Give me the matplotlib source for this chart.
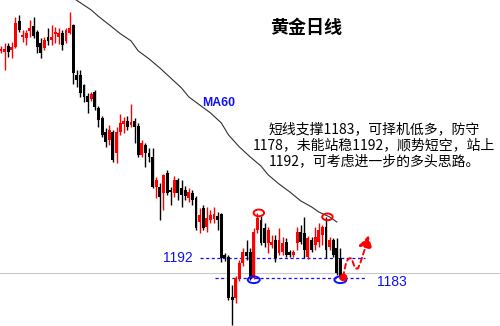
import matplotlib as mpl
import matplotlib.pyplot as plt
import numpy as np
from matplotlib.patches import Ellipse, FancyArrowPatch
from matplotlib.path import Path

plt.rcParams['font.family'] = ['Noto Sans CJK SC', 'DejaVu Sans']

RED = '#ff0000'
BLUE = '#1010ff'

# daily gold candles, oldest first
opens = [1285.1, 1284.6, 1287.3, 1285.5, 1286.9, 1298.6, 1291.4, 1290.9, 1294.1, 1296.3,
         1293.6, 1288.7, 1286.4, 1291.4, 1290.0, 1292.7, 1291.4, 1293.2, 1289.6, 1293.2,
         1296.8, 1274.3, 1274.3, 1269.8, 1264.8, 1263.5, 1266.6, 1259.4, 1254.9, 1248.6,
         1245.0, 1248.6, 1239.2, 1248.6, 1252.2, 1253.6, 1251.8, 1253.6, 1251.3, 1238.3,
         1242.8, 1239.2, 1237.4, 1223.9, 1223.9, 1221.2, 1230.2, 1222.5, 1221.2, 1227.0,
         1223.4, 1222.5, 1218.9, 1221.2, 1218.9, 1208.1, 1214.4, 1205.9, 1209.0, 1209.5,
         1210.8, 1211.7, 1193.3, 1192.4, 1174.4, 1173.9, 1182.9, 1189.7, 1194.6, 1194.6,
         1182.9, 1204.5, 1209.0, 1205.4, 1198.7, 1197.8, 1200.0, 1194.2, 1194.6, 1199.1,
         1194.6, 1193.3, 1198.7, 1203.6, 1203.2, 1192.4, 1200.0, 1197.8, 1199.1, 1202.3,
         1205.9, 1196.9, 1200.0, 1196.4, 1191.9]
highs = [1287.3, 1288.7, 1288.7, 1289.1, 1300.4, 1301.3, 1294.5, 1294.5, 1299.0, 1300.4,
         1294.5, 1290.9, 1291.4, 1295.4, 1296.8, 1295.9, 1295.4, 1294.5, 1295.4, 1302.6,
         1297.2, 1276.5, 1276.5, 1270.2, 1266.2, 1266.6, 1267.5, 1260.3, 1255.8, 1250.4,
         1251.8, 1249.5, 1250.9, 1256.7, 1255.4, 1255.8, 1261.2, 1254.9, 1252.7, 1245.0,
         1243.7, 1241.4, 1241.4, 1228.4, 1225.7, 1229.7, 1231.5, 1223.9, 1228.8, 1227.9,
         1227.0, 1224.3, 1223.4, 1222.5, 1219.8, 1214.4, 1215.8, 1214.9, 1213.5, 1214.9,
         1212.6, 1212.2, 1194.2, 1193.3, 1179.8, 1183.8, 1191.0, 1196.4, 1200.0, 1196.4,
         1205.4, 1212.2, 1210.8, 1207.7, 1205.9, 1202.3, 1202.3, 1205.4, 1201.4, 1200.9,
         1195.5, 1195.5, 1205.9, 1206.8, 1210.4, 1201.8, 1201.4, 1205.9, 1207.7, 1206.8,
         1210.4, 1201.4, 1200.9, 1200.9, 1196.4]
lows = [1284.2, 1276.5, 1282.4, 1281.9, 1286.4, 1293.6, 1289.1, 1287.8, 1291.4, 1290.9,
        1284.2, 1281.9, 1285.5, 1287.8, 1287.8, 1288.7, 1288.2, 1285.5, 1288.7, 1292.7,
        1270.2, 1268.9, 1264.4, 1262.1, 1257.2, 1262.6, 1258.5, 1250.9, 1246.4, 1241.9,
        1242.8, 1235.1, 1234.7, 1247.3, 1248.2, 1249.5, 1250.9, 1243.7, 1237.4, 1237.4,
        1232.9, 1235.1, 1223.4, 1218.9, 1209.0, 1213.5, 1220.3, 1215.8, 1219.4, 1218.0,
        1214.9, 1218.0, 1217.1, 1215.8, 1204.5, 1203.2, 1204.5, 1203.6, 1207.7, 1207.7,
        1204.5, 1190.1, 1190.6, 1173.0, 1161.6, 1171.7, 1181.6, 1188.3, 1191.0, 1182.0,
        1182.5, 1203.2, 1197.8, 1196.9, 1194.2, 1196.4, 1190.1, 1193.3, 1193.3, 1192.4,
        1192.4, 1192.4, 1195.5, 1198.2, 1191.9, 1191.5, 1194.6, 1195.5, 1196.9, 1197.8,
        1191.9, 1195.5, 1192.4, 1184.3, 1182.5]
closes = [1286.0, 1286.0, 1284.6, 1286.9, 1297.7, 1294.5, 1292.3, 1293.2, 1295.4, 1291.8,
          1286.9, 1284.2, 1290.0, 1289.6, 1291.4, 1293.6, 1293.2, 1287.8, 1294.5, 1295.4,
          1275.2, 1272.0, 1266.2, 1264.4, 1262.1, 1265.7, 1259.9, 1254.0, 1247.3, 1244.1,
          1249.5, 1236.0, 1248.6, 1252.7, 1253.6, 1250.9, 1253.1, 1250.9, 1238.3, 1243.7,
          1239.2, 1237.4, 1223.9, 1227.0, 1219.4, 1229.3, 1221.2, 1221.6, 1227.0, 1221.2,
          1220.3, 1219.8, 1221.6, 1218.0, 1205.4, 1211.3, 1205.4, 1209.9, 1211.3, 1211.7,
          1209.0, 1191.9, 1191.9, 1173.9, 1173.0, 1182.9, 1189.7, 1194.6, 1192.8, 1182.9,
          1203.6, 1209.9, 1198.7, 1198.7, 1204.5, 1199.1, 1191.9, 1200.0, 1198.7, 1193.3,
          1193.3, 1194.6, 1203.6, 1199.1, 1195.5, 1200.9, 1195.5, 1201.4, 1204.5, 1205.9,
          1195.5, 1200.0, 1193.3, 1185.2, 1183.4]

# 60-day moving average, sampled along the candles
ma_idx = [20, 25, 27, 30, 33, 36, 38, 41, 44, 47, 50, 52, 55, 58, 61, 63, 66, 69,
          72, 74, 77, 80, 83, 86, 88, 91, 93]
ma60 = [1308.9, 1303.5, 1300.6, 1296.8, 1292.9, 1289.6, 1285.1, 1281.5, 1277.4,
        1272.9, 1268.4, 1264.4, 1260.8, 1257.2, 1252.7, 1247.3, 1241.9, 1237.4,
        1233.3, 1229.3, 1225.2, 1221.6, 1217.6, 1214.9, 1212.6, 1210.4, 1208.1]

resistance = 1192
support = 1183
last_price = 1185

# key highs (red) and lows (blue) that get circled
top_idx = [71, 90]
bottom_idx = [70, 94]

note = ('短线支撑1183，可择机低多，防守\n'
        '1178，未能站稳1192，顺势短空，站上\n'
        '1192，可考虑进一步的多头思路。')

fig = plt.figure(figsize=(5, 3.26), dpi=100)
ax = fig.add_axes([0, 0, 1, 1])
ax.set_axis_off()
ax.set_xlim(-0.28, 138.2)
ax.set_ylim(1161.3, 1308)

o = np.array(opens)
h = np.array(highs)
l = np.array(lows)
c = np.array(closes)
x = np.arange(len(o))
up = c >= o
cols = np.where(up, RED, 'black')

ax.axhline(last_price, color='#c8c8c8', lw=0.8, zorder=1)

ax.vlines(x, l, h, colors=cols, lw=1.0, zorder=3)
body_h = np.maximum(np.abs(c - o), 0.6)
ax.bar(x, body_h, bottom=np.minimum(o, c), width=0.8, color=cols, lw=0, zorder=3)

ax.plot(ma_idx, ma60, color='#303030', lw=0.8, zorder=2)
ax.text(60.4, 1261.8, 'MA60', color=BLUE, fontsize=8.8, fontweight='bold',
        family='Liberation Sans', ha='center', va='center')

ax.hlines(resistance, 55.1, 100.8, colors=BLUE, lw=0.9, linestyles=(0, (2.5, 2)), zorder=2)
ax.hlines(support, 59.3, 100.8, colors=BLUE, lw=0.9, linestyles=(0, (2.5, 2)), zorder=2)
ax.text(49.0, resistance, str(resistance), color=BLUE, fontsize=10,
        family='Liberation Sans', ha='center', va='center')
ax.text(108.2, support - 1.8, str(support), color=BLUE, fontsize=10,
        family='Liberation Sans', ha='center', va='center')

for i in top_idx:
    ax.add_patch(Ellipse((i + 0.4, h[i]), 2.9, 3.0, fill=False, ec=RED, lw=1.4, zorder=4))
for i in bottom_idx:
    ax.add_patch(Ellipse((i, l[i] - 0.4), 3.3, 3.0, fill=False, ec=BLUE, lw=1.4, zorder=4))

# expected path: bounce off support, retest, then break higher
start = (94.8, c[-1])
ax.plot(*start, 'o', color=RED, ms=4.5, zorder=5)
verts = [start, (95.6, 1193.5), (97.2, 1191.5), (98.0, 1186.0), (98.9, 1187.3),
         (100.2, 1192.0), (101.8, 1202.0)]
codes = [Path.MOVETO] + [Path.CURVE3] * 6
arrow = FancyArrowPatch(path=Path(verts, codes), arrowstyle='-|>,head_length=0.6,head_width=0.35',
                        mutation_scale=12, color=RED, lw=1.4, ls=(0, (2.5, 1.8)), zorder=5)
ax.add_patch(arrow)

ax.text(0.612, 0.917, '黄金日线', transform=ax.transAxes, fontsize=13,
        fontweight='bold', ha='center', va='center')
ax.text(0.748, 0.555, note, transform=ax.transAxes, fontsize=10, fontweight='medium',
        ha='center', va='center', multialignment='center', linespacing=1.2)

plt.savefig('out.png', dpi=100)
